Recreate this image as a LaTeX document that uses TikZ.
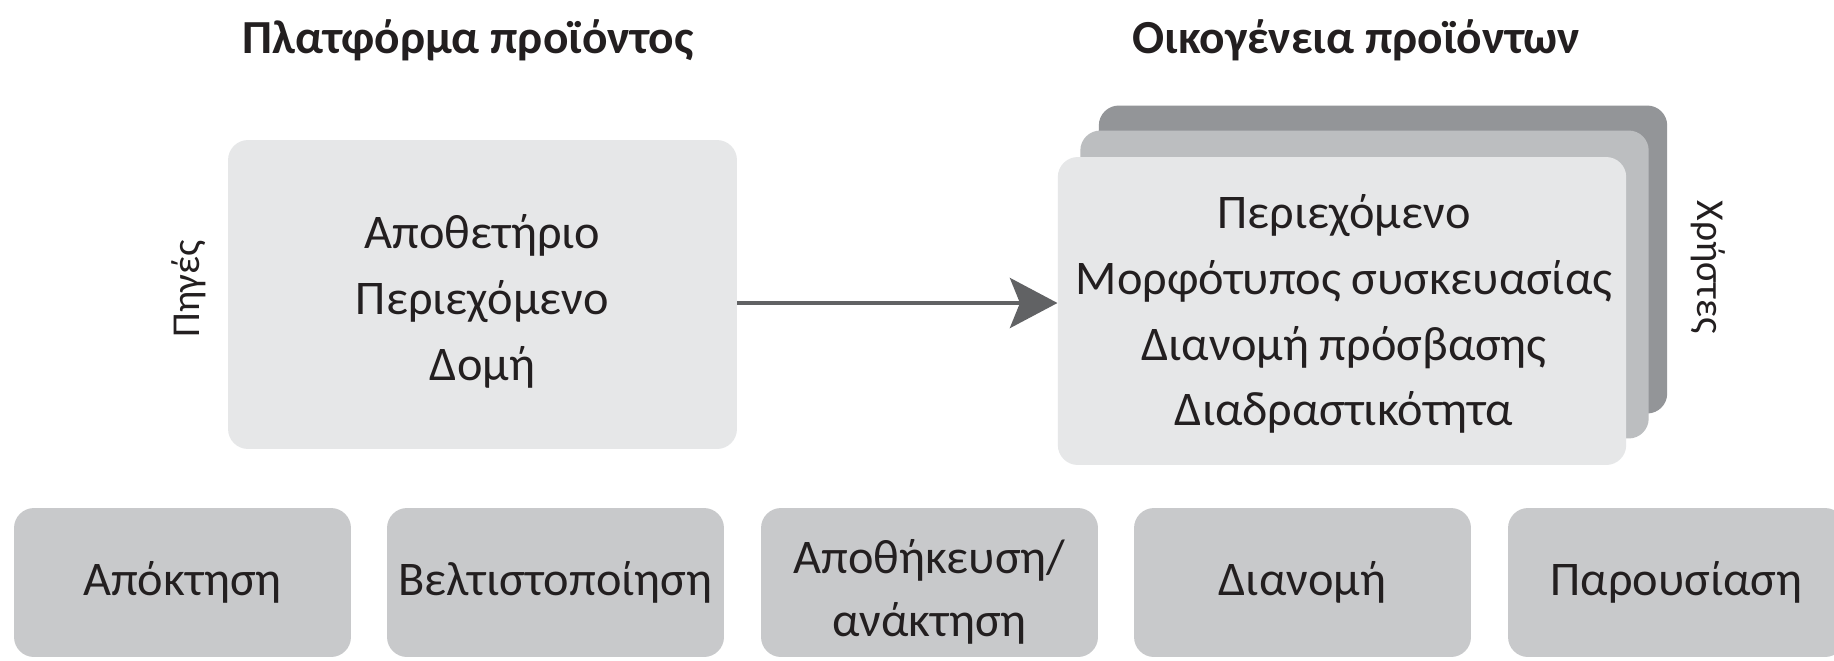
\documentclass[tikz,border=0pt]{standalone}
\usepackage{fontspec}
\setmainfont{Carlito}
\usetikzlibrary{arrows.meta}

\definecolor{panelfill}{HTML}{E6E7E8}
\definecolor{stagefill}{HTML}{C8C9CB}
\definecolor{midlayer}{HTML}{BCBEC0}
\definecolor{backlayer}{HTML}{939598}
\definecolor{ink}{HTML}{231F20}
\definecolor{arrowgray}{HTML}{616264}

\tikzset{
  txt/.style={text=ink, font=\fontsize{27.5}{37.5}\selectfont, align=center, inner sep=0pt},
  sidelabel/.style={text=ink, font=\fontsize{22.5}{26}\selectfont, inner sep=0pt},
  heading/.style={text=ink, font=\fontsize{27}{30}\selectfont\bfseries, inner sep=0pt},
  panel/.style={rectangle, rounded corners=0.4cm, fill=panelfill, draw=none, inner sep=0pt},
  layer/.style={rectangle, rounded corners=0.4cm, draw=none, inner sep=0pt,
                minimum width=11.37cm, minimum height=6.16cm},
  stage/.style={rectangle, rounded corners=0.4cm, fill=stagefill, draw=none, inner sep=0pt,
                minimum width=6.74cm, minimum height=2.98cm, txt},
  flow/.style={draw=arrowgray, line width=0.09cm,
               -{Stealth[length=0.95cm, width=1.0cm, inset=0.2cm]}},
}

\begin{document}
\begin{tikzpicture}[x=0.02cm, y=-0.02cm]
  \clip (0,0) rectangle (1834,660);
  \fill[white] (0,0) rectangle (1834,660);

  % headings
  \node[heading] (hplat) at (468,40) {Πλατφόρμα προϊόντος};
  \node[heading] (hfam)  at (1356,40) {Οικογένεια προϊόντων};

  % product platform
  \node[panel, minimum width=10.18cm, minimum height=6.18cm] (plat) at (482.5,294.5) {};
  \node[txt] (platlist) at (482.5,301) {Αποθετήριο\\Περιεχόμενο\\Δομή};
  \node[sidelabel, rotate=90] (sources) at (189,289) {Πηγές};

  % product family: three stacked cards
  \node[layer, fill=backlayer] (back) at (1383,259.5) {};
  \node[layer, fill=midlayer]  (mid)  at (1364.5,284.5) {};
  \node[layer, fill=panelfill] (front) at (1342,311) {};
  \node[txt] (famlist) at (1344,314) {Περιεχόμενο\\Μορφότυπος συσκευασίας\\Διανομή πρόσβασης\\Διαδραστικότητα};
  \node[sidelabel, rotate=-90] (users) at (1708,267) {Χρήστες};

  % connector
  \coordinate (start) at ([yshift=-0.17cm]plat.east);
  \draw[flow] (start) -- (start -| front.west);

  % workflow stages
  \node[stage] (s1) at (182.5,582.5) {Απόκτηση};
  \node[stage] (s2) at (555.5,582.5) {Βελτιστοποίηση};
  \node[stage] (s3) at (929.5,582.5) {};
  \node[txt] (s3text) at (929.5,592) {Αποθήκευση/\\[-2pt]ανάκτηση};
  \node[stage] (s4) at (1302.5,582.5) {Διανομή};
  \node[stage] (s5) at (1676.5,582.5) {Παρουσίαση};
\end{tikzpicture}
\end{document}
